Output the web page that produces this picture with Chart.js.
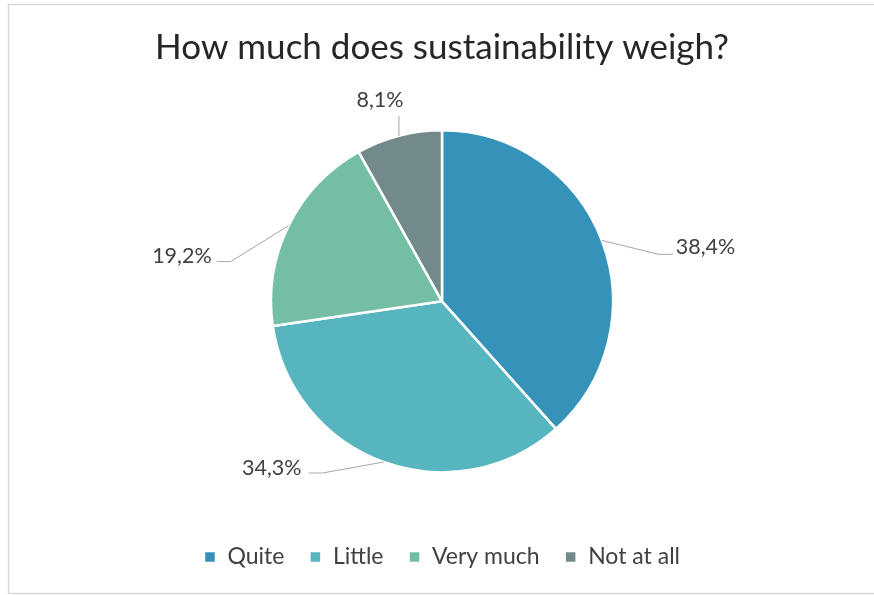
<!DOCTYPE html>
<html>
<head>
<meta charset="utf-8">
<script src="https://cdn.jsdelivr.net/npm/chart.js@4"></script>
<style>
  html, body { margin: 0; padding: 0; background: #ffffff; }
  #box { position: absolute; left: 0; top: 0; width: 874px; height: 595px; }
</style>
</head>
<body>
<div id="box"><canvas id="c" width="874" height="595"></canvas></div>
<script>
// ---- data ----
const chartTitle = 'How much does sustainability weigh?';
const categories = ['Quite', 'Little', 'Very much', 'Not at all'];
const shares = [38.4, 34.3, 19.2, 8.1];
const sliceColors = ['#3593BA', '#57B5C0', '#74BEA5', '#738A8B'];

// ---- label leader layout (offsets from each slice's outer mid point) ----
const labelLayout = [
  { line: [[57, 14], [71, 14]], text: [74, 7], align: 'left' },
  { line: [[-61, 11], [-75, 11]], text: [-82, 6], align: 'right' },
  { line: [[-58, 36], [-72, 36]], text: [-77, 30], align: 'right' },
  { line: [[0, -20]], text: [-19, -36], align: 'center' }
];

const FONT = 'Lato, "Open Sans", sans-serif';
const TEXT = '#404040';

function fmt(v) { return v.toFixed(1).replace('.', ',') + '%'; }

const framePlugin = {
  id: 'frame',
  beforeDraw(chart) {
    const ctx = chart.ctx;
    ctx.save();
    ctx.fillStyle = '#ffffff';
    ctx.fillRect(0, 0, chart.width, chart.height);
    ctx.strokeStyle = '#d9d9d9';
    ctx.lineWidth = 1.5;
    ctx.strokeRect(8.5, 4.5, 900, 589);
    ctx.restore();
  }
};

const leaderPlugin = {
  id: 'leaders',
  afterDatasetsDraw(chart) {
    const ctx = chart.ctx;
    const meta = chart.getDatasetMeta(0);
    meta.data.forEach((arc, i) => {
      const p = arc.getProps(['x', 'y', 'startAngle', 'endAngle', 'outerRadius'], true);
      const mid = (p.startAngle + p.endAngle) / 2;
      const ax = p.x + Math.cos(mid) * p.outerRadius;
      const ay = p.y + Math.sin(mid) * p.outerRadius;
      const L = labelLayout[i];
      ctx.save();
      ctx.strokeStyle = '#a6a6a6';
      ctx.lineWidth = 1;
      ctx.beginPath();
      ctx.moveTo(ax, ay);
      L.line.forEach(([dx, dy]) => ctx.lineTo(ax + dx, ay + dy));
      ctx.stroke();
      ctx.fillStyle = TEXT;
      ctx.font = '21.5px ' + FONT;
      ctx.textAlign = L.align;
      ctx.textBaseline = 'middle';
      ctx.fillText(fmt(shares[i]), ax + L.text[0], ay + L.text[1]);
      ctx.restore();
    });
  }
};

new Chart(document.getElementById('c'), {
  type: 'pie',
  data: {
    labels: categories,
    datasets: [{
      data: shares,
      backgroundColor: sliceColors,
      borderColor: '#ffffff',
      borderWidth: 2.5,
      radius: 171
    }]
  },
  options: {
    responsive: false,
    animation: false,
    devicePixelRatio: 1,
    layout: { padding: { left: 10, right: 0, top: 0, bottom: 16.5 } },
    plugins: {
      tooltip: { enabled: false },
      title: {
        display: true,
        text: chartTitle,
        color: '#262626',
        font: { family: FONT, size: 35, weight: 'normal' },
        padding: { top: 27, bottom: 13.1 }
      },
      legend: {
        position: 'bottom',
        labels: {
          color: TEXT,
          font: { family: FONT, size: 23 },
          boxWidth: 12,
          boxHeight: 12,
          padding: 25
        }
      }
    }
  },
  plugins: [framePlugin, leaderPlugin]
});
</script>
</body>
</html>
